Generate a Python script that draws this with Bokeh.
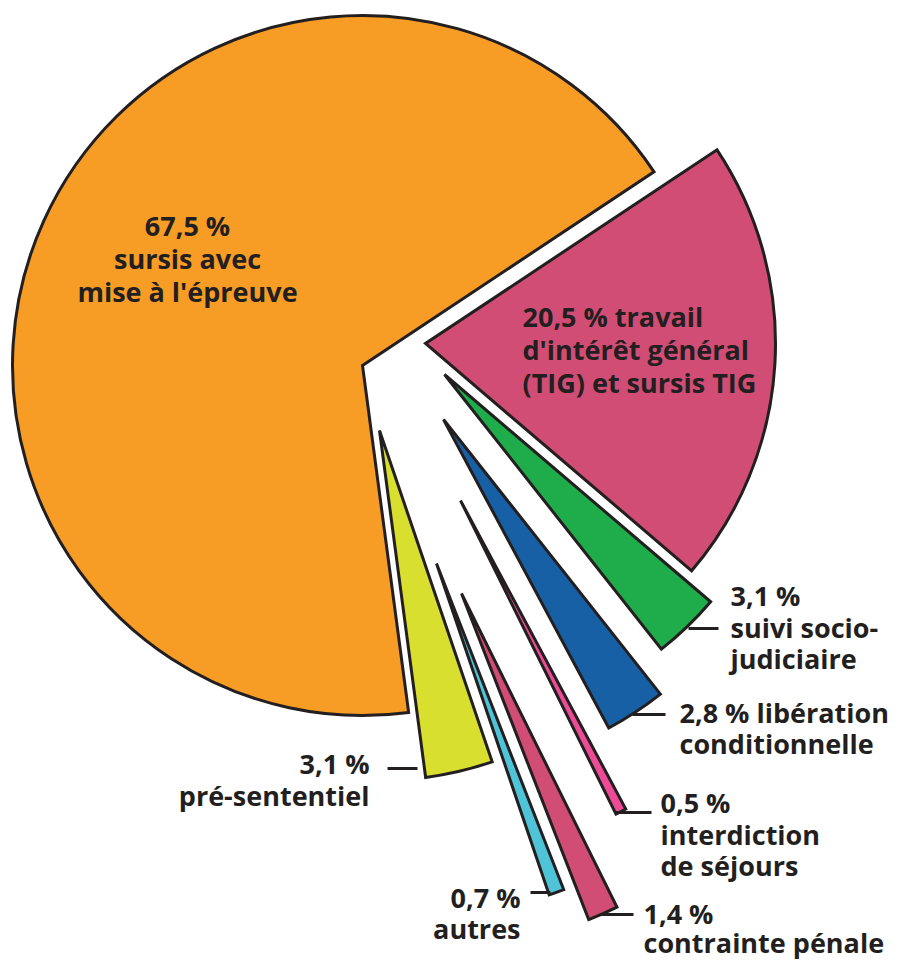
import math
from bokeh.plotting import figure
from bokeh.models import Range1d, ColumnDataSource
from bokeh.core.properties import value
from bokeh.embed import file_html
from bokeh.resources import INLINE

# ---- data (anticlockwise drawing order, starting with the big slice) ----
categories = ["sursis avec mise à l'épreuve", "pré-sententiel", "autres", "contrainte pénale",
              "interdiction de séjours", "libération conditionnelle", "suivi socio-judiciaire",
              "travail d'intérêt général (TIG) et sursis TIG"]
values = [67.5, 3.1, 0.7, 1.4, 0.5, 2.8, 3.1, 20.5]
label_lines = [
    ["67,5 %", "sursis avec", "mise à l'épreuve"],
    ["3,1 %", "pré-sententiel"],
    ["0,7 %", "autres"],
    ["1,4 %", "contrainte pénale"],
    ["0,5 %", "interdiction", "de séjours"],
    ["2,8 % libération", "conditionnelle"],
    ["3,1 %", "suivi socio-", "judiciaire"],
    ["20,5 % travail", "d'intérêt général", "(TIG) et sursis TIG"],
]

# ---- layout / style ----
W, H = 898, 961
CX, CY = 362, H - 365
R = 350
START_DEG = 33.6
colors = ["#F79C25", "#D8DF2E", "#4FC4D8", "#D14D75", "#EE4B96", "#1760A6", "#1FAD4B", "#D14D75"]
# explode offsets (screen px: dx right, dy up)
offsets = [(0, 0), (17, -65), (74, -198), (99, -228), (98, -135), (81, -54), (82, -9), (63, 22)]
# label anchor (screen coords of first line), alignment, line step, leader segment (screen coords)
label_pos = [
    (187, 225, "center", 33, None),
    (369, 763, "right", 32, (387, 768, 417, 768)),
    (520, 897, "right", 31, (530, 892, 550, 892)),
    (643, 913, "left", 29, (600, 914, 633, 914)),
    (660, 802, "left", 31.5, (615, 812, 651, 812)),
    (679, 712, "left", 31, (632, 714, 665, 714)),
    (730, 595, "left", 31.5, (688, 628, 718, 628)),
    (522, 316, "left", 33, None),
]
INK = "#231f20"

total = sum(values)
starts, ends = [], []
a = math.radians(START_DEG)
for v in values:
    span = v / total * 2 * math.pi
    starts.append(a)
    ends.append(a + span)
    a += span

src = ColumnDataSource(dict(
    x=[CX + o[0] for o in offsets],
    y=[CY + o[1] for o in offsets],
    start=starts, end=ends, color=colors, name=categories,
))

p = figure(width=W, height=H, x_range=Range1d(0, W), y_range=Range1d(0, H),
           output_backend="svg", toolbar_location=None, min_border=0,
           x_axis_type=None, y_axis_type=None)
p.grid.visible = False
p.outline_line_color = None
p.background_fill_color = "white"
p.border_fill_color = "white"

p.wedge(x="x", y="y", radius=R, start_angle="start", end_angle="end",
        fill_color="color", line_color=INK, line_width=3, line_join="miter", source=src)

tx, ty, ta, = [], [], []
txt = []
sx0, sy0, sx1, sy1 = [], [], [], []
for lines, (lx, ly, al, step, seg) in zip(label_lines, label_pos):
    for i, t in enumerate(lines):
        txt.append(t)
        tx.append(lx)
        ty.append(H - (ly + i * step))
        ta.append(al)
    if seg:
        sx0.append(seg[0]); sy0.append(H - seg[1]); sx1.append(seg[2]); sy1.append(H - seg[3])

tsrc = ColumnDataSource(dict(x=tx, y=ty, text=txt, align=ta))
p.text(x="x", y="y", text="text", text_align="align", text_baseline="middle",
       text_font=value("Open Sans"), text_font_style="bold", text_font_size="27px",
       text_color=INK, source=tsrc)

p.segment(x0=sx0, y0=sy0, x1=sx1, y1=sy1, line_color=INK, line_width=3)

open("out.html", "w").write(file_html(p, INLINE))
